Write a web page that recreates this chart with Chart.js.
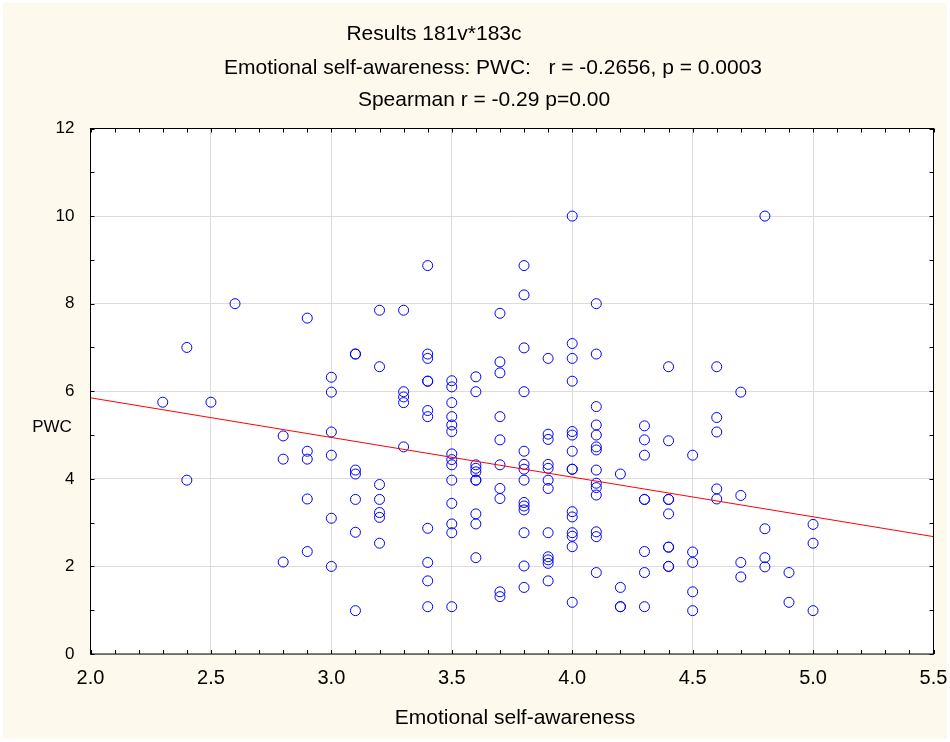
<!DOCTYPE html>
<html>
<head>
<meta charset="utf-8">
<title>Emotional self-awareness vs PWC</title>
<script src="https://cdn.jsdelivr.net/npm/chart.js@4.4.0/dist/chart.umd.min.js"></script>
<style>
  html, body { margin: 0; padding: 0; background: #fff; }
  #plot { display: block; }
</style>
</head>
<body>
<canvas id="plot" width="950" height="742"></canvas>
<script>
const titleLines = [
    'Results 181v*183c',
    'Emotional self-awareness: PWC:   r = -0.2656, p = 0.0003',
    'Spearman r = -0.29 p=0.00'
];
const xAxisLabel = 'Emotional self-awareness';
const yAxisLabel = 'PWC';

// distinct x values and the PWC readings stacked on each of them
const awarenessLevels = [2.3, 2.4, 2.5, 2.6, 2.8, 2.9, 3.0, 3.1, 3.2, 3.3, 3.4, 3.5, 3.6, 3.7,
    3.8, 3.9, 4.0, 4.1, 4.2, 4.3, 4.4, 4.5, 4.6, 4.7, 4.8, 4.9, 5.0];
const pwcByLevel = [
    [5.75],
    [7.0, 3.97],
    [5.75],
    [8.0],
    [4.98, 4.45, 2.1],
    [7.67, 4.63, 4.45, 3.54, 2.34],
    [6.32, 5.98, 5.07, 4.54, 3.1, 2.0],
    [6.85, 6.85, 4.2, 4.11, 3.53, 2.78, 0.99],
    [7.85, 6.56, 3.87, 3.53, 3.23, 3.12, 2.53],
    [7.85, 5.99, 5.87, 5.74, 4.73],
    [8.87, 6.85, 6.75, 6.23, 6.23, 5.56, 5.42, 2.87, 2.09, 1.67, 1.08],
    [6.24, 6.10, 5.74, 5.42, 5.23, 5.08, 4.57, 4.44, 4.32, 3.97, 3.44, 2.97, 2.77, 1.08],
    [6.33, 5.99, 4.32, 4.24, 4.16, 3.97, 3.97, 3.2, 2.97, 2.2],
    [7.78, 6.67, 6.42, 5.42, 4.89, 4.32, 3.78, 3.55, 1.42, 1.31],
    [8.87, 8.2, 6.99, 5.99, 4.63, 4.33, 4.22, 3.97, 3.46, 3.38, 3.29, 2.77, 2.01, 1.52],
    [6.75, 5.02, 4.9, 4.33, 4.24, 3.97, 3.78, 2.77, 2.22, 2.15, 2.07, 1.67],
    [10.0, 7.09, 6.75, 6.23, 5.08, 5.0, 4.63, 4.22, 4.22, 3.25, 3.13, 2.77, 2.69, 2.45, 1.18],
    [8.0, 6.85, 5.65, 5.23, 5.0, 4.73, 4.66, 4.2, 3.9, 3.8, 3.63, 2.79, 2.68, 1.86],
    [4.11, 1.52, 1.08, 1.08],
    [5.21, 4.89, 4.54, 3.53, 3.53, 2.34, 1.86, 1.08],
    [6.56, 4.87, 3.53, 3.53, 3.2, 2.44, 2.44, 2.0, 2.0],
    [4.54, 2.33, 2.09, 1.42, 0.99],
    [6.56, 5.4, 5.07, 3.77, 3.54],
    [5.98, 3.62, 2.09, 1.76],
    [10.0, 2.86, 2.2, 1.99],
    [1.86, 1.18],
    [2.96, 2.53, 0.99]
];

const fitX = [2.0, 5.5];
const fitY = [5.85, 2.68];

const X_MIN = 2.0, X_MAX = 5.5, Y_MIN = 0, Y_MAX = 12;

const FONT = "'Liberation Sans', Arial, sans-serif";
const CREAM = '#fef9ed';

const points = [];
awarenessLevels.forEach((x, i) => {
    pwcByLevel[i].forEach(y => points.push({ x: x, y: y }));
});
const fitLine = fitX.map((x, i) => ({ x: x, y: fitY[i] }));

const framePlugin = {
    id: 'statFrame',
    beforeDraw(chart) {
        const ctx = chart.ctx, a = chart.chartArea;
        ctx.save();
        ctx.fillStyle = '#ffffff';
        ctx.fillRect(0, 0, chart.width, chart.height);
        ctx.fillStyle = CREAM;
        ctx.fillRect(3, 3, chart.width - 6, chart.height - 6);
        ctx.fillStyle = '#ffffff';
        ctx.fillRect(a.left, a.top, a.right - a.left, a.bottom - a.top);
        ctx.restore();
    },
    afterDraw(chart) {
        const ctx = chart.ctx, a = chart.chartArea;
        const xs = chart.scales.x, ys = chart.scales.y;
        ctx.save();
        ctx.strokeStyle = '#000';
        ctx.lineWidth = 1;
        ctx.strokeRect(a.left, a.top, a.right - a.left, a.bottom - a.top);

        // small inward ticks on all four sides
        ctx.beginPath();
        for (let i = 0; i <= 35; i++) {
            const px = Math.round(xs.getPixelForValue(X_MIN + i * 0.1)) + 0.5;
            ctx.moveTo(px, a.top); ctx.lineTo(px, a.top + 4);
            ctx.moveTo(px, a.bottom); ctx.lineTo(px, a.bottom - 4);
        }
        for (let v = Y_MIN; v <= Y_MAX; v++) {
            const py = Math.round(ys.getPixelForValue(v)) + 0.5;
            ctx.moveTo(a.left, py); ctx.lineTo(a.left + 4, py);
            ctx.moveTo(a.right, py); ctx.lineTo(a.right - 4, py);
        }
        ctx.stroke();

        ctx.fillStyle = '#000';
        ctx.textAlign = 'center';
        ctx.textBaseline = 'middle';
        ctx.font = '21px ' + FONT;
        ctx.fillText(titleLines[0], 434, 34);
        ctx.fillText(titleLines[1], 493, 68);
        ctx.fillText(titleLines[2], 484, 100);
        ctx.fillText(xAxisLabel, 515, 718);
        ctx.font = '17px ' + FONT;
        ctx.fillText(yAxisLabel, 52, 427);
        ctx.restore();
    }
};

new Chart(document.getElementById('plot'), {
    data: {
        datasets: [{
            type: 'line',
            data: fitLine,
            borderColor: '#ff0000',
            borderWidth: 1,
            pointRadius: 0,
            fill: false
        }, {
            type: 'scatter',
            data: points,
            pointStyle: 'circle',
            radius: 5,
            borderColor: '#0000ff',
            borderWidth: 1,
            backgroundColor: 'rgba(0,0,0,0)'
        }]
    },
    options: {
        responsive: false,
        animation: false,
        layout: { padding: { left: 0, right: 16.5, top: 128.5, bottom: 0 } },
        plugins: {
            legend: { display: false },
            tooltip: { enabled: false },
            title: { display: false }
        },
        scales: {
            x: {
                type: 'linear',
                min: X_MIN,
                max: X_MAX,
                ticks: {
                    stepSize: 0.5,
                    color: '#000',
                    padding: 12,
                    maxRotation: 0,
                    autoSkip: false,
                    font: { family: FONT, size: 20 },
                    callback: v => v.toFixed(1)
                },
                grid: { color: '#dcdcdc', drawTicks: false },
                border: { display: false },
                afterFit: s => { s.height = 88; s.paddingLeft = 0; s.paddingRight = 0; }
            },
            y: {
                type: 'linear',
                min: Y_MIN,
                max: Y_MAX,
                ticks: {
                    stepSize: 2,
                    color: '#000',
                    padding: 16,
                    font: { family: FONT, size: 17 }
                },
                grid: { color: '#dcdcdc', drawTicks: false },
                border: { display: false },
                afterFit: s => { s.width = 90.5; s.paddingTop = 0; s.paddingBottom = 0; }
            }
        }
    },
    plugins: [framePlugin]
});
</script>
</body>
</html>
